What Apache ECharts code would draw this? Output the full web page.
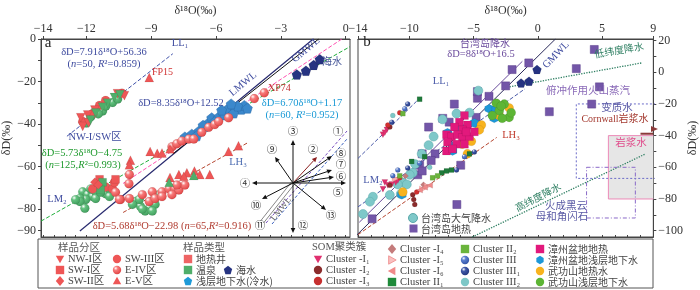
<!DOCTYPE html>
<html><head><meta charset="utf-8">
<script src="https://cdn.jsdelivr.net/npm/echarts@6/dist/echarts.min.js"></script>
<style>html,body{margin:0;padding:0;background:#fff}#c{width:700px;height:290px}</style>
</head><body><div id="c"></div>
<script>
// ===== Panel a data [δ18O, δD] =====
const aNWRedTriDown = [[-12.26,-37.0],[-11.94,-35.7],[-11.61,-33.4],[-10.24,-26.6],[-10.56,-25.7],[-12.17,-41.1],[-11.9,-39.5]];
const aNWGreenTriDown = [[-11.57,-34.8],[-10.70,-27.5],[-11.02,-30.2],[-11.25,-32.1],[-10.45,-26.2],[-11.8,-38.0]];
const aGreenCirc = [[-11.80,-36.6],[-11.25,-33.8],[-10.79,-29.8],[-11.10,-31.5],[-12.0,-39.5],[-10.55,-28.2],[-11.45,-35.2],
  [-12.17,-71.8],[-11.94,-73.1],[-11.71,-74.0],[-11.57,-71.8],[-12.03,-75.4],[-12.30,-74.9],[-11.11,-72.7],[-10.93,-70.4],[-11.80,-70.4],[-12.30,-76.3],[-12.07,-79.5],[-11.57,-74.9],[-10.93,-74.0],[-11.34,-72.0],[-12.5,-75.5],
  [-9.73,-76.3],[-9.50,-78.6],[-9.09,-79.5],[-8.82,-77.7],[-9.28,-80.8],[-9.55,-75.4],[-8.63,-73.1],[-9.41,-79.9],[-8.95,-80.8],[-9.87,-77.7]];
const aRedCirc = [[-11.39,-31.2],[-11.11,-28.9],[-12.17,-38.8],[-11.7,-35.0],[-10.35,-25.5],
  [-11.71,-70.4],[-11.11,-69.5],[-10.79,-70.4],[-10.42,-75.4],[-10.70,-67.3]];
const aRedTriUp = [[-9.09,-18.1],[-9.05,-52.8],[-8.72,-53.7],[-8.50,-53.5],[-8.13,-51.5],[-9.96,-56.9],[-10.01,-59.1],
  [-8.13,-65.0],[-7.72,-63.7],[-7.35,-62.8],[-7.0,-62.0],[-6.75,-63.7],[-6.29,-63.7],[-5.42,-52.8],[-4.96,-50.1],[-7.49,-64.5]];
const aGreenTriUp = [[-7.03,-64.1],[-8.17,-67.3]];
const aBluePent = [[-7.44,-46.0],[-7.12,-44.7],[-6.80,-43.3],[-6.52,-41.1],[-6.34,-39.3],[-6.20,-37.0],[-5.88,-36.6],[-5.61,-35.7],[-5.42,-32.5],[-5.15,-32.1],[-4.83,-33.0],[-4.69,-31.2],[-5.19,-34.8],[-6.06,-38.8],[-5.74,-33.4],[-5.0,-31.5],[-4.55,-32.5],[-6.9,-45.5],[-6.6,-40.5],[-5.3,-30.5]];
const aSeaPent = [[-2.26,-16.7],[-1.84,-14.9],[-1.48,-12.2],[-1.20,-9.5]];
const aRedSphere = [[-8.04,-50.6],[-7.81,-49.2],[-7.58,-47.9],[-7.26,-47.0],[-7.03,-47.0],[-6.66,-43.8],[-6.34,-41.5],[-6.06,-40.2],[-5.88,-38.8],[-5.42,-37.0],[-4.23,-28.0],[-3.77,-25.3],
  [-10.01,-63.7],[-10.03,-68.0],[-10.65,-72.0],
  [-10.47,-75.4],[-10.01,-74.9],[-9.41,-73.1],[-8.95,-71.8],[-8.50,-71.8],[-8.17,-70.4],[-7.90,-70.4],[-7.72,-70.9],[-7.44,-68.6],[-7.81,-68.6],[-9.09,-76.3],[-8.82,-74.9],[-8.50,-74.0],[-8.04,-73.1]];
const aRedSquare = [[-10.65,-65.9],[-11.39,-65.9]];
const aGreenSquare = [[-11.25,-67.3],[-11.34,-70.9]];
const aRedDiamond = [[-11.61,-67.3],[-11.45,-68.5]];
// panel a lines (endpoints from equations)
const aLL1 = [[-12.9,-45.68],[-8.0,-6.92]];
const aLM2 = [[-14.1,-85.54],[0.2,-3.60]];
const aPink = [[-10.3,-67.84],[-0.175,0]];
const aLMWL = [[-12.3,-90.19],[-1.499,0]];
const aGMWL = [[-8.0,-54.0],[-1.25,0]];
const aLH3 = [[-10.3,-81.48],[-4.5,-48.54]];
const aXTicks = [-14,-12,-9,-6,-3,0];
const aYTicks = [0,-20,-40,-60,-80,-90];

// ===== Panel b data =====
const bTWGeo = [[4.4,14.4],[-0.7,5.9],[-2.0,1.7],[3.0,2.3],[4.8,-9.2],[-2.5,-8.6],[-3.8,-15.2],[-4.7,-16.4],[-4.7,-12.2],[4.2,-20.1],[0.9,-24.9],[-6.5,-20.1],[-7.4,-29.1],[-8.5,-34.6],[-6.9,-31.5],[-4.8,-28.5],[-8.0,-51.5],[-8.3,-55.7],[-9.0,-51.5],[-9.2,-58.7],[-9.35,-64.7],[-9.0,-62.3],[-6.0,-58.7],[-6.3,-83.5],[-12.9,-92.5]];
const bTWRain = [[-4.63,-11.6],[-6.33,-26.1],[-5.32,-25.5],[-7.42,-29.7],[-8.11,-40.6],[-8.50,-46.0],[-9.04,-51.5],[-9.55,-58.0],[-9.74,-63.5],[-9.97,-64.7],[-10.51,-69.6],[-10.2,-70.8],[-10.90,-70.8],[-10.67,-76.8],[-11.52,-77.5],[-12.84,-78.6],[-13.07,-81.7],[-13.61,-89.5]];
const bZZGeo = [[-5.71,-27.3],[-6.10,-31.5],[-5.48,-33.3],[-6.49,-34.6],[-5.87,-36.4],[-7.11,-39.4],[-6.72,-40.6],[-6.25,-39.4],[-5.87,-41.2],[-5.32,-40.6],[-7.03,-44.2],[-6.33,-45.4],[-5.71,-45.4],[-7.11,-49.7],[-6.64,-48.4],[-5.56,-37.6],[-4.94,-37.6]];
const bZZShallow = [[-4.55,-33.3],[-4.94,-32.1],[-7.03,-38.2],[-6.64,-46.6],[-6.64,-49.7],[-3.78,-23.1],[-3.39,-26.1],[-3.23,-23.1],[-3.39,-29.1],[-10.59,-77.4],[-6.1,-34.6]];
const bWGSGeo = [[-4.39,-33.3],[-4.55,-36.4],[-5.17,-43.6],[-5.87,-45.4],[-5.48,-51.5],[-2.23,-22.5],[-3.00,-27.3],[-10.51,-75.6]];
const bWGSShallow = [[-2.61,-20.1],[-3.00,-24.3],[-2.23,-28.5],[-2.77,-29.1],[-3.54,-27.3],[-2.07,-25.5],[-3.23,-19.5],[-2.85,-21.3]];
const bSea = [[-1.30,-6.8],[-0.68,-5.6],[-0.06,1.7]];
const bCI1 = [[-11.75,-36.4],[-12.06,-39.4],[-11.91,-38.2],[-11.91,-69.6],[-11.68,-71.4],[-11.37,-70.8],[-11.06,-69.6],[-12.06,-73.8],[-10.90,-68.4]];
const bCI2 = [[-11.52,-34.6],[-11.52,-71.4],[-9.74,-77.4],[-9.58,-83.5],[-9.66,-80.4]];
const bCI3 = [[-10.75,-25.5],[-11.68,-33.3],[-10.75,-66.6],[-9.43,-75.6]];
const bCI4 = [[-10.3,-65.5],[-8.9,-71.0]];
const bCI5 = [[-11.1,-67.2],[-8.97,-73.8],[-8.6,-72.0]];
const bCI6 = [[-9.20,-74.4],[-8.81,-72.6],[-8.42,-71.4]];
const bCII1 = [[-9.20,-17.0],[-7.49,-63.5],[-7.11,-62.3],[-6.72,-61.7],[-9.82,-56.3],[-8.81,-53.3],[-5.32,-51.5]];
const bCII2 = [[-10.51,-26.1],[-10.75,-65.4],[-8.19,-66.6],[-7.80,-65.4]];
const bCIII = [[-10.36,-23.1],[-11.29,-65.4],[-10.90,-61.7],[-9.2,-57.5],[-5.71,-53.3]];
const bCIII1 = [[-10.13,-20.1],[-11.37,-31.5],[-4.94,-50.3],[-6.33,-61.7],[-10.13,-60.5]];
const bCIII2 = [[-11.29,-27.3],[-8.42,-60.0]];
// panel b lines
const bTW = [[-13.9,-94.7],[-1.2,6.9]];
const bGMWL = [[-14.25,-104],[1.375,21]];
const bLM2 = [[-14,-84.97],[-1,-10.48]];
const bLL1 = [[-14,-54.38],[-9.2,-16.41]];
const bLH3 = [[-14,-102.5],[-3.2,-41.16]];
const bLowLat = [[-2.2,-9.2],[8.1,5.9]];
const bHighLat = [[-5.1,-104],[8.4,-51.5]];
const bMetaBox = [[9.2,-20],[3,-20],[3,-67],[9.2,-67]];
const bMagmaBox = [[9,-40],[5.5,-40],[5.5,-80],[9,-80]];
const bIgnBox = [[3.8,-60],[7.6,-60],[7.6,-92],[3.8,-92],[3.8,-60]];
const bCornwall = [[8.0,-38.8],[9.0,-38.8]];
const bXTicks = [-14,-10,-5,0,5,9];
const bYTicks = [20,0,-20,-40,-60,-80,-100];

// ===== styles =====
const SERIF = '"Liberation Serif","DejaVu Serif","Noto Sans CJK SC",serif';
const CJK = '"Noto Sans CJK SC","Liberation Serif",sans-serif';
const SYM = {
  triDown:'path://M0,0L10,0L5,9Z', triUp:'path://M5,0L10,9L0,9Z',
  pent:'path://M5,0L10,3.8L8.1,9.5L1.9,9.5L0,3.8Z',
  hex:'path://M5,0L9.33,2.5L9.33,7.5L5,10L0.67,7.5L0.67,2.5Z',
  triRight:'path://M0,0L9,5L0,10Z', triLeft:'path://M9,0L0,5L9,10Z'
};
const RED='#ee5656', GREEN='#4fae6a';
function sphere(c1,c2){return {type:'radial',x:0.35,y:0.3,r:0.8,colorStops:[{offset:0,color:'#ffffff'},{offset:0.3,color:c1},{offset:1,color:c2}]};}
function S(data,symbol,size,color,panel,z,border){
  return {type:'scatter', data, symbol, symbolSize:size, xAxisIndex: panel===0?0:2, yAxisIndex: panel===0?0:1,
    itemStyle:{color, opacity:1, borderColor: border||'rgba(0,0,0,0.15)', borderWidth:0.5}, z: z||3, silent:true};
}
function L(data,color,type,panel,width){
  return {type:'line', data, symbol:'none', xAxisIndex: panel===0?0:2, yAxisIndex: panel===0?0:1,
    lineStyle:{color, type: type||'solid', width: width||1}, z:2, silent:true};
}
const fmt = v => v<0 ? '\u2212'+(-v) : String(v);
function range(a,b,s){const r=[];for(let v=a;v<=b+1e-9;v+=s)r.push(+v.toFixed(2));return r;}

const series = [
  L(aLL1,'#3d4fa8','dashed',0), L(aLM2,'#1fae3a','dashed',0), L(aPink,'#ff4fb0','dashed',0),
  L(aLMWL,'#27296e','solid',0,1.2), L(aGMWL,'#111','solid',0,1), L(aLH3,'#b5452f','dashed',0),
  S(aGreenCirc,'circle',9,sphere('#63c27f','#3a9656'),0),
  S(aRedCirc,'circle',9,RED,0),
  S(aNWRedTriDown,SYM.triDown,9,RED,0),
  S(aNWGreenTriDown,SYM.triDown,9,GREEN,0),
  S(aBluePent,SYM.pent,10,'#3b88cc',0,3,'#2a6aa8'),
  S(aSeaPent,SYM.pent,10,'#263381',0),
  S(aRedSphere,'circle',9,sphere('#f77b7b','#dd3b3b'),0),
  S(aRedSquare,'rect',8,RED,0),
  S(aGreenSquare,'rect',8,GREEN,0),
  S(aRedDiamond,'diamond',9,RED,0),
  S(aRedTriUp,SYM.triUp,9,RED,0),
  S(aGreenTriUp,SYM.triUp,9,GREEN,0),
  L(bTW,'#6a4c9c','solid',1), L(bGMWL,'#2a2a5a','solid',1), L(bLM2,'#4a5aa8','dashed',1),
  L(bLL1,'#4a5aa8','dashed',1), L(bLH3,'#b5452f','dashed',1),
  L(bLowLat,'#2e7f62','dotted',1,1.3), L(bHighLat,'#2e7f62','dotted',1,1.3),
  L(bMetaBox,'#6b6bc8',[2,2],1), L(bMagmaBox,'#ec8ab8','solid',1), L(bIgnBox,'#8a6ac8',[4,2,1,2],1),
  Object.assign(L(bCornwall,'#8b3a3a','solid',1,2),{z:5}),
  Object.assign(S(bTWGeo,'rect',8,'#7356a8',1,3,'#5a3f8a'),{markArea:{silent:true,z:1,data:[[{xAxis:5.5,yAxis:-40,itemStyle:{color:'#e6e6e6'}},{xAxis:9,yAxis:-80}]]}}),
  S(bTWRain,'circle',9,'#7ec8c9',1,3,'#5aa8aa'),
  S(bZZShallow,SYM.hex,9,'#1d98d8',1),
  S(bWGSGeo,'circle',9,'#f8b31e',1),
  S(bWGSShallow,'circle',9,'#5db535',1),
  S(bZZGeo,'rect',8,'#e2197c',1),
  S(bSea,SYM.pent,9,'#263381',1),
  S(bCI1,SYM.triDown,6,'#e0306f',1,4),
  S(bCI2,'circle',5,'#8b2c2c',1,4),
  S(bCI3,'circle',5,'#d23030',1,4),
  S(bCI4,'diamond',6,'#c47b7b',1,4),
  S(bCI5,SYM.triRight,6,'#f7b2b2',1,4,'#e88'),
  S(bCI6,SYM.triLeft,6,'#f08a8a',1,4),
  S(bCII1,'rect',5,'#1e7a3a',1,4),
  S(bCII2,'rect',5,'#6ab43c',1,4),
  S(bCIII,'circle',5,sphere('#5a7ed0','#2f4fa0'),1,4),
  S(bCIII1,'circle',5,sphere('#3f58a8','#1f3278'),1,4),
  S(bCIII2,'circle',5,'#7dc7c7',1,4)
];

// ===== graphics =====
const G = [];
function T(x,y,text,color,size,o){o=o||{};
  G.push({type:'text',x,y,rotation:(o.rot||0)*Math.PI/180,z:60,silent:true,
    style:{text,fill:color,font:(o.italic?'italic ':'')+size+'px '+(o.cjk?CJK:SERIF),
      align:o.align||'center',verticalAlign:'middle',textAlign:o.align||'center',textVerticalAlign:'middle',rich:o.rich}});}
const RI = s => ({i:{font:'italic '+s+'px '+SERIF}});
function arrow(x1,y1,x2,y2,color){
  const a=Math.atan2(y2-y1,x2-x1), Ln=5, W=2.3, bx=x2-Ln*Math.cos(a), by=y2-Ln*Math.sin(a);
  G.push({type:'line',z:60,silent:true,shape:{x1,y1,x2:bx,y2:by},style:{stroke:color,lineWidth:1}});
  G.push({type:'polygon',z:60,silent:true,shape:{points:[[x2,y2],[bx+W*Math.sin(a),by-W*Math.cos(a)],[bx-W*Math.sin(a),by+W*Math.cos(a)]]},style:{fill:color}});
}
function seg(x1,y1,x2,y2,color,dash,w){G.push({type:'line',z:59,silent:true,shape:{x1,y1,x2,y2},style:{stroke:color,lineWidth:w||1,lineDash:dash||null}});}

const F = 10.5;
// panel a annotations
T(48,43,'a','#222',15);
T(104,52,'δD=7.91δ¹⁸O+56.36','#3d4a9e',F);
T(104,64,'({i|n}=50, {i|R}²=0.859)','#3d4a9e',F,{rich:RI(F)});
T(180,43,'LL₁','#3d4a9e',F);
T(152,72,'FP15','#d03030',10,{align:'left'});
T(95,137,'NW-I/SW区','#3d4a9e',F);
T(82,153,'δD=5.73δ¹⁸O\u22124.75','#1f9a2e',F);
T(83,165,'({i|n}=125,{i|R}²=0.993)','#1f9a2e',F,{rich:RI(F)});
T(57,199,'LM₂','#3d4a9e',F);
T(243,84,'LMWL','#3d4a9e',F,{rot:40});
T(306,50,'GMWL','#3d4a9e',F,{rot:40});
T(332,61,'海水','#4a5a9a',10,{cjk:true});
T(268,88,'XP74','#c03030',10,{align:'left'});
T(181,103,'δD=8.35δ¹⁸O+12.52','#3d4a9e',F);
T(302,103,'δD=6.70δ¹⁸O+1.17','#1a9ad6',F);
T(302,115,'({i|n}=60, {i|R}²=0.952)','#1a9ad6',F,{rich:RI(F)});
T(238,162,'LH₃','#4a6ab0',F);
T(172,226,'δD=5.68δ¹⁸O\u221222.98 ({i|n}=65,{i|R}²=0.916)','#b03a2e',F,{rich:RI(F)});
// vector diagram
const C=[293,183];
seg(266,223,347,131,'#7a4fc0',[3,2]);
seg(272,224,347,139,'#3a60c0',[3,2]);
seg(C[0]-1.5,C[1]-1,262-1.5,222-1,'#888'); seg(C[0]+1.5,C[1]+1,262+1.5,222+1,'#888');
T(281,209,'LMWL','#666',9,{rot:51});
[[293,140,'#111'],[317,157,'#8b1f1f'],[332,156,'#111'],[332,170,'#111'],[334,177,'#111'],[346,183,'#111'],
 [252,183,'#111'],[275,157,'#111'],[262,199,'#111'],[326,210,'#111'],[293,233,'#111']].forEach(p=>arrow(C[0],C[1],p[0],p[1],p[2]));
[['③',293,131],['①',338,131],['②',313,149],['⑧',341,153],['⑦',341,164],['⑥',341,176],['⑤',338,192],
 ['④',245,183],['⑨',272,149],['⑩',256,205],['⑪',260,225],['⑫',303,225],['⑬',331,215]].forEach(q=>T(q[1],q[2],q[0],'#333',10.5,{cjk:true}));

// panel b annotations
T(367,42,'b','#222',15);
T(485,43,'台湾岛降水','#6a4a9c',10,{cjk:true});
T(481,54,'δD=8δ¹⁸O+16.5','#6a4a9c',F);
T(441,81,'LL₁','#4a5aa8',F);
T(556,55,'GMWL','#3d4a9e',F,{rot:46});
T(619,50,'低纬度降水','#2e7f62',10,{cjk:true,rot:10});
T(588,90,'俯冲作用火山蒸汽','#8a6ab8',10.5,{cjk:true});
T(617,107,'变质水','#5a5aa5',10.5,{cjk:true});
T(615,119,'Cornwall岩浆水','#a43a30',10);
G.push({type:'polygon',z:60,silent:true,shape:{points:[[658,129],[651,126],[651,132]]},style:{fill:'#8b3a3a'}});
T(631,142,'岩浆水','#e04a8a',10.5,{cjk:true});
T(511,135,'LH₃','#c0392b',F);
T(373,180,'LM₂','#4a5aa8',F);
T(538,197,'高纬度降水','#2e7f62',10,{cjk:true,rot:27});
T(566,205,'火成黑云','#5a5aa5',10.5,{cjk:true});
T(562,216,'母和角闪石','#5a5aa5',10.5,{cjk:true});
G.push({type:'circle',z:60,shape:{cx:413,cy:218,r:4.5},style:{fill:'#7ec8c9',stroke:'#5aa8aa'}});
T(421,218,'台湾岛大气降水','#444',10,{cjk:true,align:'left'});
G.push({type:'rect',z:60,shape:{x:409.5,y:224.5,width:8,height:8},style:{fill:'#7356a8'}});
T(421,229,'台湾岛地热','#444',10,{cjk:true,align:'left'});

// legend box
G.push({type:'rect',z:60,shape:{x:38,y:239,width:615,height:49},style:{fill:'none',stroke:'#555',lineWidth:1}});
function legSym(kind,cx,cy,fill,stroke){
  const s=4.2; let el;
  if(kind==='circle') el={type:'circle',shape:{cx,cy,r:s}};
  else if(kind==='rect') el={type:'rect',shape:{x:cx-s,y:cy-s,width:2*s,height:2*s}};
  else { const P={
      diamond:[[cx,cy-s*1.2],[cx+s,cy],[cx,cy+s*1.2],[cx-s,cy]],
      triDown:[[cx-s,cy-s*0.8],[cx+s,cy-s*0.8],[cx,cy+s]],
      triUp:[[cx-s,cy+s*0.8],[cx+s,cy+s*0.8],[cx,cy-s]],
      triRight:[[cx-s*0.8,cy-s],[cx+s,cy],[cx-s*0.8,cy+s]],
      triLeft:[[cx+s*0.8,cy-s],[cx-s,cy],[cx+s*0.8,cy+s]],
      pent:[[cx,cy-s],[cx+s,cy-0.25*s],[cx+0.62*s,cy+s],[cx-0.62*s,cy+s],[cx-s,cy-0.25*s]],
      hex:[[cx,cy-s],[cx+0.87*s,cy-0.5*s],[cx+0.87*s,cy+0.5*s],[cx,cy+s],[cx-0.87*s,cy+0.5*s],[cx-0.87*s,cy-0.5*s]]}[kind];
    el={type:'polygon',shape:{points:P}}; }
  el.z=61; el.silent=true; el.style={fill,stroke:stroke||null,lineWidth:stroke?0.8:0}; G.push(el);
}
T(58,247,'样品分区','#555',10.5,{cjk:true,align:'left'});
T(183,247,'样品类型','#555',10.5,{cjk:true,align:'left'});
T(312,247,'SOM聚类簇','#555',10.5,{align:'left'});
const LEG = [
  ['triDown',60,259,RED,'NW-I区'],['rect',60,270,RED,'SW-I区'],['diamond',60,281,RED,'SW-II区'],
  ['circle',117,259,RED,'SW-III区'],['circle',117,270,sphere('#f77b7b','#dd3b3b'),'E-IV区'],['triUp',117,281,RED,'E-V区'],
  ['rect',188,259,'#ee6464','地热井'],['rect',188,270,GREEN,'温泉'],['pent',188,281,'#1e9ad8','浅层地下水(冷水)'],['pent',228,270,'#263381','海水'],
  ['triDown',318,259,'#e0306f','Cluster -I₁'],['circle',318,270,'#8b2c2c','Cluster -I₂'],['circle',318,281,'#c62f2f','Cluster -I₃'],
  ['diamond',392,249,'#c47b7b','Cluster -I₄'],['triRight',392,260,'#f9c0c0','Cluster -I₅'],['triLeft',392,271,'#f08a8a','Cluster -I₆'],['rect',392,282,'#1e8a3a','Cluster II₁'],
  ['rect',465,249,'#6ab43c','Cluster II₂'],['circle',465,260,sphere('#5a7ed0','#2f4fa0'),'Cluster III'],['circle',465,271,sphere('#3f58a8','#1f3278'),'Cluster III₁'],['circle',465,282,'#7dc7c7','Cluster III₂'],
  ['rect',540,249,'#e2197c','漳州盆地地热'],['hex',540,260,'#1d98d8','漳州盆地浅层地下水'],['circle',540,271,'#f8b31e','武功山地热水'],['circle',540,282,'#5db535','武功山浅层地下水']
];
LEG.forEach(l=>{ legSym(l[0],l[1],l[2],l[3], l[0]==='triRight'?'#e88':null);
  const cjk=/[\u4e00-\u9fff]/.test(l[4]) && !/[A-Z]/.test(l[4]);
  T(l[1]+8,l[2],l[4],'#444',cjk?10:10.5,{align:'left',cjk}); });

// ===== axes =====
const axLine={onZero:false,lineStyle:{color:'#444',width:1}};
const labStyle={color:'#333',fontSize:12,fontFamily:SERIF,formatter:fmt};
const nameStyle={color:'#333',fontSize:12,fontFamily:SERIF};
const option = {
  backgroundColor:'#fff', animation:false,
  grid:[{left:38,top:31,width:312,height:206,show:true,borderColor:'#444',borderWidth:1},
        {left:358,top:30,width:297,height:207,show:true,borderColor:'#444',borderWidth:1}],
  xAxis:[
    {gridIndex:0,type:'value',position:'top',min:-14.1,max:0.2,name:'δ¹⁸O(‰)',nameLocation:'middle',nameGap:22,nameTextStyle:nameStyle,
     axisLine:axLine,axisTick:{customValues:aXTicks,length:3,lineStyle:{color:'#444'}},axisLabel:Object.assign({customValues:aXTicks,margin:4},labStyle),splitLine:{show:false}},
    {gridIndex:0,type:'value',position:'bottom',min:-14.1,max:0.2,axisLine:axLine,axisTick:{customValues:range(-14,0,0.5),length:2,inside:true,lineStyle:{color:'#444'}},axisLabel:{show:false},splitLine:{show:false}},
    {gridIndex:1,type:'value',position:'top',min:-14,max:9,name:'δ¹⁸O(‰)',nameLocation:'middle',nameGap:22,nameTextStyle:nameStyle,
     axisLine:axLine,axisTick:{customValues:bXTicks,length:3,lineStyle:{color:'#444'}},axisLabel:Object.assign({customValues:bXTicks,margin:4},labStyle),splitLine:{show:false}},
    {gridIndex:1,type:'value',position:'bottom',min:-14,max:9,axisLine:axLine,axisTick:{customValues:range(-14,9,1),length:2,inside:true,lineStyle:{color:'#444'}},axisLabel:{show:false},splitLine:{show:false}}
  ],
  yAxis:[
    {gridIndex:0,type:'value',position:'left',min:-93,max:0,name:'δD(‰)',nameLocation:'middle',nameGap:28,nameRotate:90,nameTextStyle:nameStyle,
     axisLine:axLine,axisTick:{customValues:range(-90,0,10),length:3,lineStyle:{color:'#444'}},axisLabel:Object.assign({customValues:aYTicks,margin:5},labStyle),splitLine:{show:false}},
    {gridIndex:1,type:'value',position:'right',min:-104,max:21,name:'δD(‰)',nameLocation:'middle',nameGap:33,nameRotate:90,nameTextStyle:nameStyle,
     axisLine:axLine,axisTick:{customValues:range(-100,20,10),length:3,lineStyle:{color:'#444'}},axisLabel:Object.assign({customValues:bYTicks,margin:5},labStyle),splitLine:{show:false}}
  ],
  series, graphic:{elements:G}
};
const chart = echarts.init(document.getElementById('c'),null,{renderer:'canvas'});
chart.setOption(option);
</script></body></html>
